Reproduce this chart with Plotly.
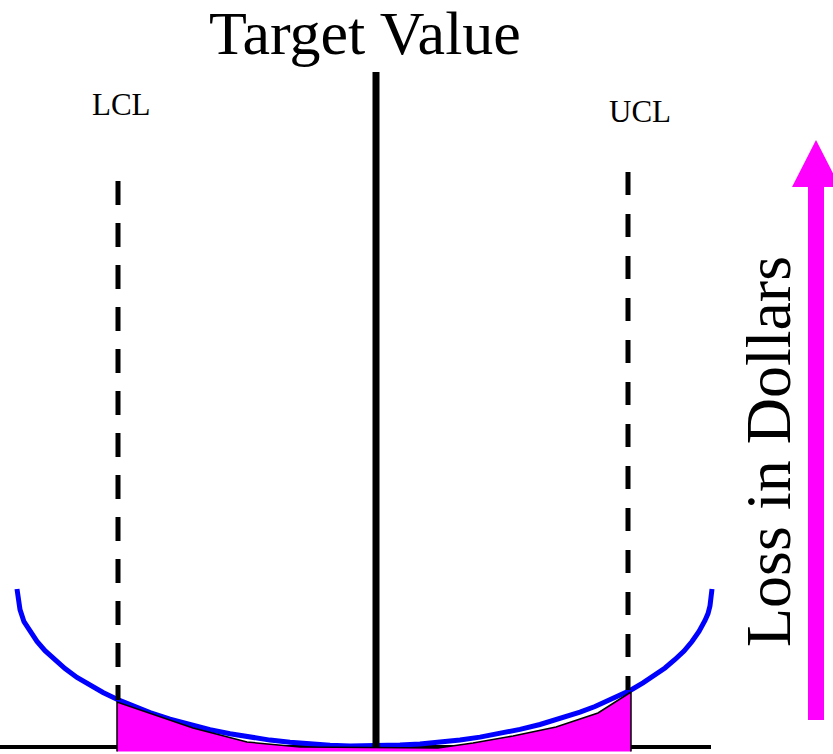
import plotly.graph_objects as go

# Quality characteristic positions (x) and loss values (y, 0 = target loss)
curve_x = [17, 18, 20, 24, 30, 37, 45, 55, 65, 77, 90, 103, 117, 133, 150, 170, 190, 210, 230, 250, 270, 290, 310, 330, 350, 365,
           380, 400, 420, 440, 460, 480, 500, 520, 540, 560, 580, 595, 610, 620, 631, 643, 655, 665, 675, 684, 692, 699, 705, 708, 710, 711, 712]
curve_loss = [157, 145.4, 136.4, 124.3, 114.5, 104.6, 95.3, 86.0, 77.4, 68.6, 60.7, 53.5, 46.8, 39.9, 33.5, 26.9, 21.2, 16.3, 12.2, 8.7, 5.9, 3.7, 1.9, 0.7, 0.1, 0,
              0.2, 0.9, 2.0, 3.7, 6.0, 8.9, 12.4, 16.6, 21.5, 27.3, 33.8, 39.5, 45.9, 50.7, 56, 63.1, 70.8, 78.0, 86.5, 95.0, 104.5, 114.6, 125.6, 132.4, 140.2, 145.6, 157]

# Shaded loss region between LCL and UCL
shade_x = [117, 117, 193, 247, 300, 413, 438, 473, 513, 556, 598, 631, 631]
shade_loss = [-5.5, 44, 18, 4, -1, -2, -2, 3, 10, 19, 33, 54, -5.5]

# Reference lines
target_x = 376
target_top = 674
lcl_x = 118
lcl_range = [565, 46]
ucl_x = 628
ucl_range = [574, 56]
axis_x = [0, 711]
axis_loss = [-1, -1]

# Labels
title_text = "Target Value"
lcl_text = "LCL"
ucl_text = "UCL"
loss_text = "Loss in Dollars"

# Arrow outline (loss direction)
arrow_x = [808, 808, 792, 816, 840, 824, 824]
arrow_loss = [26, 559, 559, 606, 559, 559, 26]

SERIF = "Liberation Serif, Times New Roman, serif"

fig = go.Figure()

fig.add_trace(go.Scatter(x=axis_x, y=axis_loss, mode="lines",
                         line=dict(color="black", width=4), hoverinfo="skip"))
fig.add_trace(go.Scatter(x=curve_x, y=curve_loss, mode="lines",
                         line=dict(color="#0000ff", width=5),
                         hoverinfo="skip"))
fig.add_trace(go.Scatter(x=shade_x, y=shade_loss, mode="lines", fill="toself",
                         fillcolor="#ff00ff", line=dict(color="black", width=1.5),
                         hoverinfo="skip"))
fig.add_trace(go.Scatter(x=[target_x, target_x], y=[-1, target_top], mode="lines",
                         line=dict(color="black", width=7), hoverinfo="skip"))
fig.add_trace(go.Scatter(x=[lcl_x, lcl_x], y=lcl_range, mode="lines",
                         line=dict(color="black", width=5, dash="24px,18px"), hoverinfo="skip"))
fig.add_trace(go.Scatter(x=[ucl_x, ucl_x], y=ucl_range, mode="lines",
                         line=dict(color="black", width=5, dash="23px,19px"), hoverinfo="skip"))
fig.add_trace(go.Scatter(x=arrow_x, y=arrow_loss, mode="lines", fill="toself",
                         fillcolor="#ff00ff", line=dict(color="#ff00ff", width=0),
                         hoverinfo="skip"))

fig.add_annotation(x=365, y=713, text=title_text, showarrow=False,
                   font=dict(family=SERIF, size=62, color="black"),
                   xanchor="center", yanchor="middle", borderpad=0)
fig.add_annotation(x=121, y=642, text=lcl_text, showarrow=False,
                   font=dict(family=SERIF, size=31, color="black"),
                   xanchor="center", yanchor="middle")
fig.add_annotation(x=640, y=635, text=ucl_text, showarrow=False,
                   font=dict(family=SERIF, size=31, color="black"),
                   xanchor="center", yanchor="middle")
fig.add_annotation(x=768, y=294, text=loss_text, showarrow=False, textangle=-90,
                   font=dict(family=SERIF, size=64, color="black"),
                   xanchor="center", yanchor="middle")

fig.update_layout(
    width=833, height=754,
    margin=dict(l=0, r=0, t=0, b=0),
    paper_bgcolor="white", plot_bgcolor="white",
    showlegend=False,
    xaxis=dict(range=[0, 833], visible=False, fixedrange=True),
    yaxis=dict(range=[-8, 746], visible=False, fixedrange=True),
)

fig.write_html("out.html", config={"displayModeBar": False},
               post_script="document.body.style.margin='0';document.body.style.overflow='hidden';")
